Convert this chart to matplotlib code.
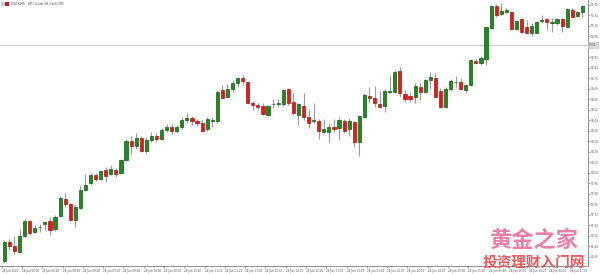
import matplotlib
matplotlib.use("Agg")
import matplotlib.pyplot as plt
import numpy as np

# OHLC values (M5 candles)
opens = [97.369, 97.516, 97.484, 97.436, 97.562, 97.676, 97.588, 97.626, 97.654, 97.674,
         97.611, 97.715, 97.844, 97.804, 97.682, 97.773, 97.910, 97.961, 98.022, 97.994,
         98.063, 98.030, 98.063, 98.042, 98.139, 98.284, 98.246, 98.307, 98.208, 98.291,
         98.322, 98.299, 98.368, 98.390, 98.360, 98.390, 98.444, 98.459, 98.436, 98.423,
         98.373, 98.438, 98.438, 98.672, 98.621, 98.680, 98.723, 98.761, 98.736, 98.576,
         98.556, 98.550, 98.482, 98.563, 98.563, 98.563, 98.678, 98.583, 98.482, 98.550,
         98.464, 98.434, 98.436, 98.352, 98.352, 98.393, 98.380, 98.436, 98.373, 98.426,
         98.274, 98.469, 98.627, 98.614, 98.566, 98.553, 98.659, 98.655, 98.819, 98.642,
         98.629, 98.617, 98.697, 98.659, 98.748, 98.761, 98.667, 98.540, 98.678, 98.731,
         98.733, 98.672, 98.710, 98.896, 98.880, 98.908, 99.142, 99.312, 99.251, 99.269,
         99.269, 99.135, 99.211, 99.150, 99.109, 99.109, 99.200, 99.211, 99.180, 99.180,
         99.211, 99.155, 99.282, 99.238, 99.264]
highs = [97.529, 97.537, 97.560, 97.613, 97.689, 97.682, 97.644, 97.651, 97.676, 97.707,
         97.720, 97.865, 97.885, 97.809, 97.796, 97.941, 98.030, 98.038, 98.038, 98.058,
         98.083, 98.101, 98.076, 98.147, 98.299, 98.322, 98.345, 98.322, 98.314, 98.352,
         98.345, 98.383, 98.413, 98.413, 98.406, 98.467, 98.497, 98.474, 98.450, 98.444,
         98.464, 98.464, 98.672, 98.710, 98.718, 98.748, 98.769, 98.787, 98.741, 98.591,
         98.576, 98.571, 98.558, 98.601, 98.601, 98.678, 98.685, 98.652, 98.576, 98.647,
         98.520, 98.576, 98.454, 98.449, 98.423, 98.454, 98.469, 98.454, 98.457, 98.438,
         98.482, 98.647, 98.693, 98.703, 98.665, 98.678, 98.787, 98.825, 98.850, 98.672,
         98.659, 98.723, 98.723, 98.754, 98.812, 98.804, 98.685, 98.693, 98.754, 98.779,
         98.761, 98.718, 98.906, 98.906, 98.931, 99.155, 99.320, 99.328, 99.333, 99.295,
         99.276, 99.206, 99.219, 99.206, 99.180, 99.200, 99.244, 99.219, 99.219, 99.219,
         99.219, 99.295, 99.295, 99.276, 99.320]
lows = [97.354, 97.453, 97.423, 97.428, 97.552, 97.567, 97.580, 97.593, 97.606, 97.567,
        97.598, 97.707, 97.783, 97.674, 97.631, 97.766, 97.905, 97.951, 97.981, 97.987,
        97.974, 98.025, 98.012, 98.032, 98.131, 98.185, 98.223, 98.200, 98.185, 98.276,
        98.276, 98.291, 98.352, 98.337, 98.345, 98.375, 98.421, 98.406, 98.400, 98.355,
        98.362, 98.393, 98.423, 98.606, 98.617, 98.659, 98.697, 98.710, 98.563, 98.520,
        98.525, 98.480, 98.474, 98.533, 98.540, 98.553, 98.558, 98.482, 98.403, 98.444,
        98.380, 98.419, 98.297, 98.342, 98.278, 98.352, 98.291, 98.342, 98.322, 98.240,
        98.169, 98.457, 98.571, 98.545, 98.533, 98.507, 98.647, 98.647, 98.621, 98.583,
        98.583, 98.576, 98.596, 98.647, 98.678, 98.609, 98.533, 98.533, 98.667, 98.693,
        98.672, 98.652, 98.703, 98.876, 98.863, 98.863, 99.135, 99.231, 99.244, 99.261,
        99.129, 99.129, 99.109, 99.104, 99.084, 99.104, 99.180, 99.129, 99.117, 99.168,
        99.112, 99.150, 99.226, 99.231, 99.231]
closes = [97.516, 97.484, 97.446, 97.560, 97.676, 97.585, 97.623, 97.631, 97.667, 97.603,
          97.702, 97.852, 97.801, 97.682, 97.783, 97.913, 97.951, 98.022, 97.992, 98.053,
          98.019, 98.073, 98.030, 98.141, 98.284, 98.246, 98.307, 98.208, 98.291, 98.322,
          98.299, 98.368, 98.390, 98.360, 98.390, 98.444, 98.459, 98.436, 98.423, 98.362,
          98.451, 98.444, 98.659, 98.614, 98.680, 98.723, 98.761, 98.743, 98.576, 98.560,
          98.540, 98.489, 98.550, 98.568, 98.576, 98.672, 98.571, 98.495, 98.566, 98.464,
          98.419, 98.444, 98.362, 98.375, 98.393, 98.377, 98.444, 98.360, 98.436, 98.274,
          98.474, 98.634, 98.609, 98.571, 98.540, 98.665, 98.665, 98.812, 98.652, 98.606,
          98.601, 98.703, 98.659, 98.748, 98.774, 98.621, 98.540, 98.678, 98.741, 98.736,
          98.680, 98.710, 98.901, 98.880, 98.914, 99.150, 99.312, 99.244, 99.274, 99.282,
          99.135, 99.200, 99.117, 99.109, 99.160, 99.193, 99.206, 99.190, 99.193, 99.211,
          99.160, 99.287, 99.231, 99.269, 99.312]

price_ticks = [99.32, 99.24, 99.16, 99.08, 98.92, 98.84, 98.76, 98.68, 98.60, 98.52,
               98.44, 98.36, 98.28, 98.20, 98.12, 98.04, 97.96, 97.88, 97.80, 97.72,
               97.64, 97.56, 97.48, 97.40]
level_price = 99.015
level_label = "99.01"
time_labels = ["24 Jun 2020"] + ["24 Jun %02d:%02d" % divmod(460 + 20 * k, 60) for k in range(1, 29)]
title = "USDX,M5:  WTI Crude Oil Cash CFD"

fig = plt.figure(figsize=(6.0, 2.74), dpi=100)
ax = fig.add_axes([0.0, 8 / 274, 588 / 600, 266 / 274])
ax.set_facecolor("white")

x = np.arange(len(opens))
o = np.array(opens); c = np.array(closes); h = np.array(highs); l = np.array(lows)
up = c >= o
wick_col = "#9a9a9a"
ax.vlines(x, l, h, color=wick_col, linewidth=0.8, zorder=1)
body_lo = np.minimum(o, c)
body_h = np.maximum(np.abs(c - o), 0.002)
ax.bar(x[up], body_h[up], bottom=body_lo[up], width=0.62, color="#1f8a1f",
       edgecolor="#0d5c0d", linewidth=0.5, zorder=2)
ax.bar(x[~up], body_h[~up], bottom=body_lo[~up], width=0.62, color="#e41a1a",
       edgecolor="#b01212", linewidth=0.5, zorder=2)

# horizontal level line
ax.axhline(level_price, color="#c8c8c8", linewidth=0.7, zorder=0)

ax.set_xlim(-0.85, 115.1)
ax.set_ylim(97.331, 99.358)

ax.yaxis.tick_right()
ax.set_yticks(price_ticks)
ax.set_yticklabels(["%.2f" % v for v in price_ticks])
ax.tick_params(axis="y", length=1.5, width=0.5, colors="#808080", labelsize=2.0, pad=0.8,
               labelcolor="#555555")
ax.text(1.002, (level_price - 97.331) / (99.358 - 97.331), level_label,
        transform=ax.transAxes, fontsize=2.0, color="#555555", va="center", ha="left",
        bbox=dict(boxstyle="square,pad=0.25", facecolor="#d8d8d8", edgecolor="#bbbbbb",
                  linewidth=0.4))

tick_pos = [4 * k - 0.5 for k in range(len(time_labels))]
ax.set_xticks(tick_pos)
ax.set_xticklabels(time_labels, ha="left")
ax.tick_params(axis="x", length=1.5, width=0.5, colors="#808080", labelsize=2.0, pad=0.8,
               labelcolor="#555555")

for s in ["top", "left"]:
    ax.spines[s].set_visible(False)
for s in ["right", "bottom"]:
    ax.spines[s].set_color("#808080")
    ax.spines[s].set_linewidth(0.6)

# title with small flag icon
fig.patches.append(plt.Rectangle((1 / 600, 1 - 6 / 274), 4 / 600, 4 / 274,
                                 transform=fig.transFigure, facecolor="#c8cce8", edgecolor="none"))
fig.patches.append(plt.Rectangle((5 / 600, 1 - 6 / 274), 4 / 600, 4 / 274,
                                 transform=fig.transFigure, facecolor="#c02020", edgecolor="none"))
fig.text(11 / 600, 1 - 4 / 274, title, fontsize=2.2, color="#444444", va="center", ha="left")

# watermark
cjk = ["Noto Sans CJK SC", "DejaVu Sans"]
fig.text(534 / 600, 1 - 240 / 274, "黄金之家", fontsize=16, color="#ea6f9c", weight="bold",
         family=cjk, ha="center", va="center", alpha=0.9)
fig.text(534 / 600, 1 - 262 / 274, "投资理财入门网", fontsize=10.5, color="#e24a4a", weight="bold",
         family=cjk, ha="center", va="center", alpha=0.9)

fig.savefig("out.png", dpi=100)
